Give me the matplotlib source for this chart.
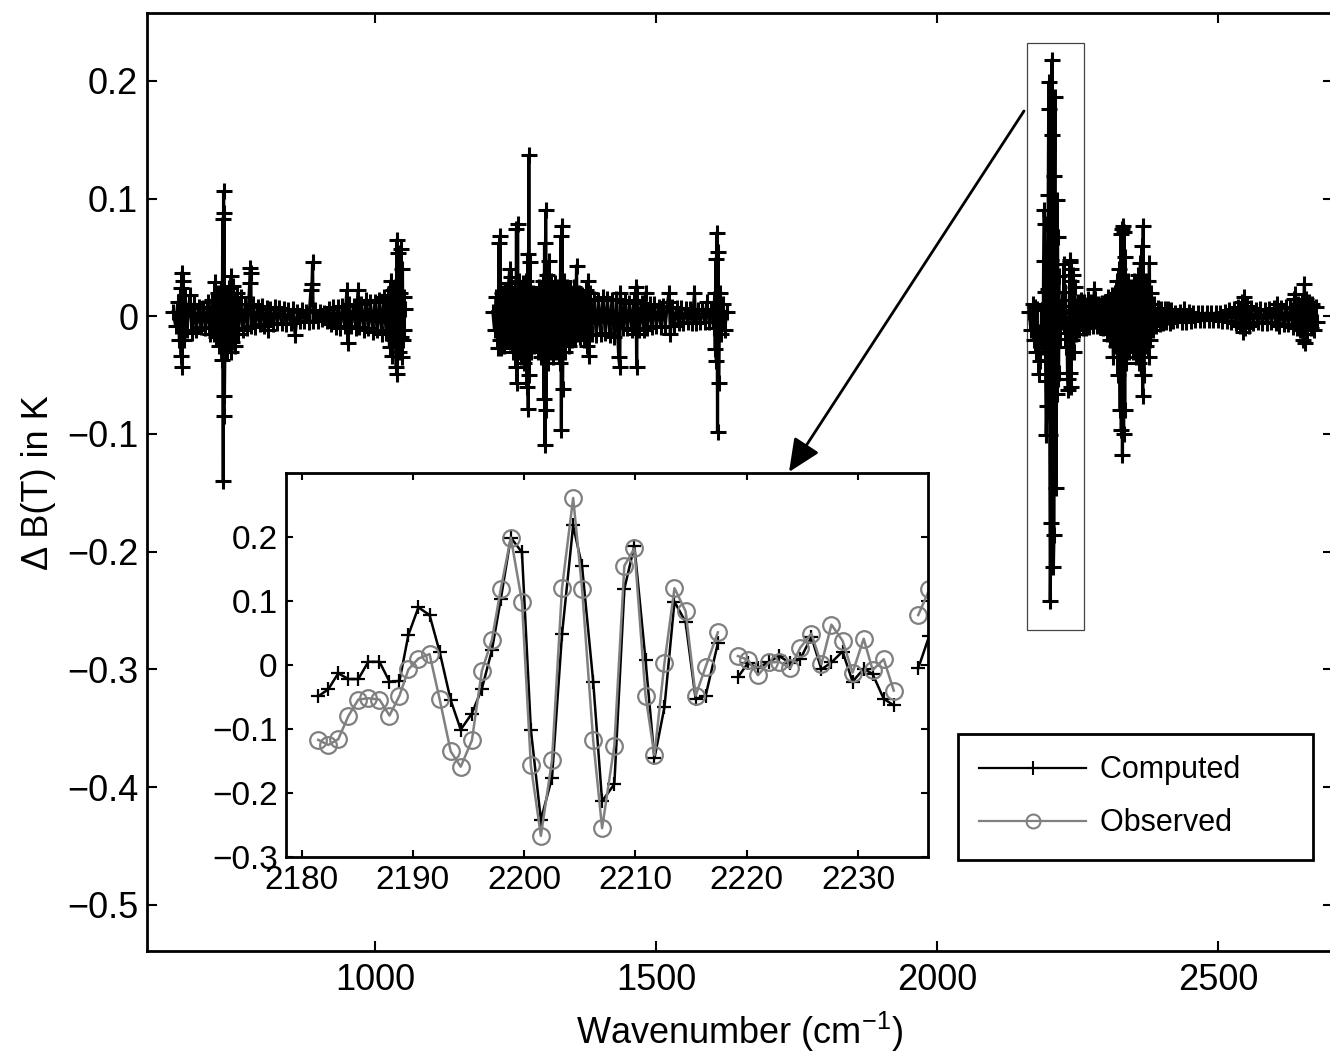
import numpy as np
import matplotlib
matplotlib.use('Agg')
import matplotlib.pyplot as plt
from matplotlib.lines import Line2D
from matplotlib.patches import Rectangle, FancyArrowPatch

plt.rcParams['font.family'] = ['Liberation Sans', 'DejaVu Sans']
plt.rcParams['mathtext.fontset'] = 'custom'
plt.rcParams['mathtext.rm'] = 'Liberation Sans'
plt.rcParams['mathtext.default'] = 'regular'

# ---- main panel: computed dB(T) per band (wavenumber, K) ----
band_lw = [
    (640, 0.004), (644, -0.008), (648, 0.012), (651, -0.02), (653, 0.024), (654, -0.034),
    (655, 0.037), (656, -0.043), (657, 0.030), (659, -0.02), (661, 0.018), (664, -0.012),
    (668, 0.01), (670, 0.018), (673, -0.014), (677, 0.01), (681, -0.012), (685, 0.008),
    (689, -0.009), (693, 0.007), (697, -0.01), (701, 0.012), (705, -0.015), (709, 0.014),
    (712, -0.015), (714, 0.029), (716, -0.018), (719, 0.02), (722, -0.025), (725, 0.022),
    (727, -0.037), (728, 0.083), (729, -0.14), (729.5, 0.106), (730, -0.085), (730.5, 0.088),
    (731, -0.068), (733, 0.02), (736, -0.03), (739, 0.024), (742, -0.03), (743, 0.034),
    (745, -0.022), (747, 0.026), (750, -0.025), (753, 0.02), (756, -0.015), (760, 0.016),
    (764, -0.012), (768, 0.01), (772, -0.01), (776, 0.028), (777, 0.041), (778, 0.037),
    (779, -0.008), (782, 0.01), (786, -0.009), (790, 0.008), (794, -0.007), (798, 0.009),
    (802, -0.008), (806, 0.007), (809, -0.012), (813, 0.006), (817, -0.007), (821, 0.008),
    (825, -0.006), (829, 0.007), (833, -0.006), (837, 0.006), (841, -0.007), (845, 0.005),
    (849, -0.006), (853, 0.006), (857, -0.016), (861, 0.004), (865, -0.004), (869, 0.005),
    (873, -0.004), (877, 0.004), (881, -0.005), (885, 0.022), (887, 0.027), (888, 0.046),
    (889, -0.004), (893, 0.005), (897, -0.004), (901, 0.004), (905, -0.002), (909, 0.003),
    (913, -0.004), (917, 0.006), (921, -0.007), (925, 0.008), (929, -0.009), (933, 0.008),
    (937, -0.01), (941, 0.009), (945, -0.008), (949, 0.022), (951, -0.023), (953, 0.01),
    (957, -0.008), (961, 0.009), (965, -0.01), (969, 0.022), (971, -0.009), (975, 0.01),
    (979, -0.012), (983, 0.014), (987, -0.01), (991, 0.012), (995, -0.013), (999, 0.012),
    (1003, -0.012), (1007, 0.014), (1011, -0.015), (1015, 0.016), (1019, -0.014), (1022, 0.018),
    (1025, -0.026), (1027, 0.03), (1029, -0.034), (1031, 0.022), (1033, -0.02), (1035, 0.025),
    (1037, -0.043), (1038, 0.065), (1039, -0.049), (1040, 0.054), (1041, -0.03), (1043, 0.02),
    (1045, -0.018), (1046, 0.057), (1047, -0.035), (1048, 0.04), (1049, -0.02), (1050, 0.016),
    (1051, -0.012), (1052, 0.006),
]

band_mw = [
    (1209, 0.004), (1212, -0.012), (1215, 0.016), (1218, -0.027), (1220, 0.062), (1221, -0.02),
    (1222, 0.068), (1223, -0.027), (1225, 0.02), (1228, -0.025), (1231, 0.022), (1234, -0.02),
    (1237, 0.028), (1239, 0.04), (1240, -0.022), (1242, 0.033), (1245, -0.03), (1248, 0.025),
    (1250, -0.043), (1251, 0.074), (1252, -0.057), (1253, 0.078), (1254, -0.03), (1256, 0.03),
    (1259, -0.035), (1262, 0.028), (1265, -0.04), (1268, 0.03), (1270, -0.06), (1271, 0.053),
    (1272, -0.079), (1273, 0.137), (1274, -0.05), (1275, 0.046), (1277, -0.03), (1280, 0.02),
    (1283, -0.025), (1286, 0.018), (1289, -0.03), (1292, 0.025), (1295, -0.035), (1298, 0.03),
    (1300, -0.07), (1301, 0.062), (1302, -0.109), (1303, 0.090), (1304, -0.08), (1305, 0.035),
    (1307, -0.04), (1309, 0.047), (1310, -0.03), (1313, 0.03), (1316, -0.035), (1319, 0.028),
    (1322, -0.03), (1325, 0.025), (1328, -0.04), (1330, 0.068), (1331, -0.097), (1332, 0.077),
    (1333, -0.062), (1335, 0.03), (1338, -0.03), (1341, 0.025), (1344, -0.025), (1347, 0.022),
    (1350, -0.02), (1353, 0.025), (1356, -0.018), (1358, 0.043), (1359, -0.015), (1362, 0.02),
    (1365, -0.018), (1368, 0.018), (1371, -0.02), (1374, 0.022), (1377, -0.025), (1379, 0.030),
    (1380, -0.034), (1382, 0.02), (1385, -0.015), (1389, 0.015), (1393, -0.016), (1397, 0.014),
    (1401, -0.015), (1405, 0.016), (1409, -0.014), (1413, 0.015), (1417, -0.016), (1421, 0.014),
    (1425, -0.018), (1429, 0.015), (1433, -0.035), (1435, -0.043), (1436, 0.02), (1440, -0.01),
    (1444, 0.012), (1448, -0.01), (1452, 0.011), (1456, -0.012), (1460, 0.014), (1463, -0.015),
    (1464, 0.025), (1465, -0.043), (1466, 0.02), (1470, -0.012), (1474, 0.011), (1478, -0.012),
    (1481, 0.02), (1484, -0.01), (1488, 0.01), (1492, -0.009), (1496, 0.01), (1500, -0.008),
    (1504, 0.008), (1508, -0.009), (1512, 0.009), (1516, -0.008), (1520, 0.012), (1523, 0.020),
    (1525, -0.015), (1528, 0.008), (1532, -0.008), (1536, 0.007), (1540, -0.006), (1544, 0.007),
    (1548, -0.006), (1552, 0.006), (1556, -0.005), (1560, 0.006), (1564, -0.006), (1568, 0.02),
    (1570, -0.006), (1574, 0.005), (1578, -0.005), (1582, 0.006), (1586, -0.005), (1590, 0.012),
    (1594, -0.005), (1598, 0.006), (1602, -0.01), (1604, 0.02), (1605, -0.028), (1606, 0.049),
    (1607, -0.038), (1608, 0.071), (1609, -0.098), (1610, 0.055), (1611, -0.057), (1613, 0.02),
    (1616, -0.015), (1619, 0.01), (1622, -0.012), (1625, 0.004),
]

band_sw_lead = [
    (2164, 0.004), (2167, -0.012), (2170, 0.01), (2172, -0.02), (2174, 0.008), (2176, -0.03),
    (2177.5, 0.006),
]

band_sw_tail = [
    (2237, 0.048), (2237.5, -0.048), (2238, 0.04), (2238.5, -0.06), (2239, 0.03), (2240, -0.02),
    (2242, 0.035), (2243, -0.03), (2245, 0.025), (2247, -0.015), (2250, 0.012), (2253, -0.012),
    (2256, 0.014), (2259, -0.01), (2262, 0.012), (2265, -0.01), (2268, 0.015), (2271, -0.009),
    (2274, 0.012), (2277, -0.008), (2280, 0.023), (2282, 0.015), (2284, -0.008), (2287, 0.01),
    (2290, -0.009), (2293, 0.011), (2296, -0.01), (2299, 0.012), (2302, -0.015), (2305, 0.016),
    (2308, -0.02), (2311, 0.018), (2314, -0.035), (2316, 0.02), (2318, -0.025), (2320, 0.03),
    (2322, -0.05), (2324, 0.04), (2326, -0.08), (2327, 0.070), (2328, -0.097), (2329, 0.074),
    (2330, -0.118), (2331, 0.077), (2332, -0.1), (2333, 0.072), (2334, -0.08), (2335, 0.05),
    (2337, -0.04), (2339, 0.03), (2342, -0.03), (2345, 0.025), (2348, -0.03), (2351, 0.03),
    (2354, -0.035), (2357, 0.035), (2360, -0.04), (2362, 0.045), (2364, -0.05), (2365, 0.06),
    (2366, -0.068), (2367, 0.077), (2368, -0.05), (2370, 0.03), (2372, -0.025), (2375, 0.03),
    (2377, -0.035), (2378, 0.045), (2379, -0.02), (2381, 0.02), (2384, -0.012), (2387, 0.01),
    (2390, -0.008), (2393, 0.007), (2396, -0.007), (2399, 0.006), (2402, -0.006), (2405, 0.006),
    (2408, -0.005), (2411, 0.006), (2414, -0.006), (2417, 0.005), (2420, -0.004), (2424, 0.003),
    (2428, -0.003), (2432, 0.004), (2436, -0.005), (2440, 0.006), (2444, -0.005), (2448, 0.004),
    (2452, -0.004), (2456, 0.003), (2460, -0.003), (2464, 0.003), (2468, -0.003), (2472, 0.003),
    (2476, -0.003), (2480, 0.003), (2484, -0.003), (2488, 0.003), (2492, -0.003), (2496, 0.003),
    (2500, -0.003), (2504, 0.003), (2508, -0.004), (2512, 0.004), (2516, -0.004), (2520, 0.005),
    (2524, -0.005), (2528, 0.006), (2532, -0.006), (2536, 0.008), (2540, -0.008), (2543, 0.012),
    (2545, -0.013), (2546, 0.016), (2548, -0.01), (2551, 0.009), (2555, -0.008), (2559, 0.007),
    (2563, -0.006), (2567, 0.005), (2571, -0.005), (2575, 0.006), (2579, -0.006), (2583, 0.005),
    (2587, -0.006), (2591, 0.006), (2595, -0.005), (2599, 0.007), (2603, -0.006), (2606, 0.01),
    (2609, -0.008), (2613, 0.007), (2617, -0.007), (2621, 0.008), (2625, -0.007), (2629, 0.008),
    (2633, -0.009), (2636, 0.015), (2638, 0.019), (2640, -0.01), (2643, 0.01), (2646, -0.012),
    (2649, 0.012), (2652, -0.02), (2654, 0.027), (2655, -0.023), (2657, 0.015), (2659, -0.015),
    (2662, 0.012), (2665, -0.01), (2668, 0.01), (2671, -0.012), (2674, 0.008), (2676, -0.005),
]

# ---- inset: 2180-2236 cm-1 detail ----
inset_wn = [2181.5, 2182.4, 2183.3, 2184.2, 2185.1, 2186.0, 2187.0, 2187.9, 2188.8, 2189.6,
            2190.5, 2191.5, 2192.4, 2193.4, 2194.3, 2195.3, 2196.2, 2197.1, 2197.9, 2198.8,
            2199.8, 2200.6, 2201.5, 2202.5, 2203.4, 2204.4, 2205.2, 2206.2, 2207.0, 2208.1,
            2209.0, 2209.9, 2210.9, 2211.7, 2212.6, 2213.5, 2214.5, 2215.4, 2216.3, 2217.4,
            2218.3, 2219.2, 2220.1, 2221.0, 2222.0, 2222.9, 2223.9, 2224.8, 2225.8, 2226.7,
            2227.6, 2228.6, 2229.5, 2230.5, 2231.3, 2232.3, 2233.2, 2234.1, 2235.4, 2236.4]
computed = [-0.049, -0.038, -0.013, -0.022, -0.022, 0.005, 0.005, -0.026, -0.025, 0.047,
            0.090, 0.078, 0.021, -0.055, -0.101, -0.076, -0.037, 0.023, 0.103, 0.199,
            0.176, -0.101, -0.242, -0.176, 0.048, 0.218, 0.154, -0.026, -0.213, -0.186,
            0.119, 0.186, 0.008, -0.146, -0.066, 0.099, 0.067, -0.053, -0.048, 0.034,
            np.nan, -0.019, 0.003, -0.005, 0.005, 0.014, 0.003, 0.009, 0.044, -0.007,
            0.004, 0.021, -0.026, -0.006, -0.014, -0.053, -0.063, np.nan, -0.005, 0.046]
observed = [-0.117, -0.125, -0.116, -0.080, -0.054, -0.052, -0.054, -0.079, -0.048, -0.007,
            0.010, 0.017, -0.053, -0.135, -0.159, -0.118, -0.009, 0.039, 0.119, 0.199,
            0.099, -0.157, -0.267, -0.149, 0.120, 0.261, 0.119, -0.118, -0.255, -0.126,
            0.155, 0.182, -0.048, -0.141, 0.003, 0.120, 0.084, -0.048, -0.003, 0.051,
            np.nan, 0.014, 0.008, -0.016, 0.004, 0.005, -0.005, 0.027, 0.049, 0.001,
            0.063, 0.038, -0.012, 0.041, -0.008, 0.009, -0.040, np.nan, 0.078, 0.118]

main_yticks = [-0.5, -0.4, -0.3, -0.2, -0.1, 0, 0.1, 0.2]
main_ylabels = ['\u22120.5', '\u22120.4', '\u22120.3', '\u22120.2', '\u22120.1', '0', '0.1', '0.2']
main_xticks = [1000, 1500, 2000, 2500]
inset_xticks = [2180, 2190, 2200, 2210, 2220, 2230]
inset_yticks = [-0.3, -0.2, -0.1, 0, 0.1, 0.2]
inset_ylabels = ['\u22120.3', '\u22120.2', '\u22120.1', '0', '0.1', '0.2']

# assemble the main series, NaN breaks between bands
gap = [(np.nan, np.nan)]
sw_mid = list(zip(inset_wn, computed))
main_pts = band_lw + gap + band_mw + gap + band_sw_lead + sw_mid + band_sw_tail
main_wn = np.array([p[0] for p in main_pts])
main_dbt = np.array([p[1] for p in main_pts])

fig = plt.figure(figsize=(13.3, 10.55), dpi=100)

ax = fig.add_axes([0.1102, 0.0986, 0.8921, 0.8888])
ax.plot(main_wn, main_dbt, color='k', lw=2.3, marker='+', ms=11, mew=2.2)
ax.add_patch(Rectangle((2160, -0.267), 102, 0.499, fill=False, ec='#444444', lw=0.9))
ax.set_xlim(592.4, 2705)
ax.set_ylim(-0.5393, 0.2574)
ax.set_xticks(main_xticks)
ax.set_yticks(main_yticks)
ax.set_yticklabels(main_ylabels)
ax.tick_params(direction='in', length=7, width=1.5, top=True, right=True,
               labelsize=26, pad=6)
ax.tick_params(axis='x', pad=9)
for s in ax.spines.values():
    s.set_linewidth(2.0)
ax.set_xlabel('Wavenumber (cm$^{-1}$)', fontsize=26, labelpad=8)
ax.set_ylabel('\u0394 B(T) in K', fontsize=26, labelpad=8)

leg = ax.legend(handles=[
    Line2D([], [], color='k', lw=1.6, marker='+', ms=10, mew=1.5, label='Computed      '),
    Line2D([], [], color='#808080', lw=1.6, marker='o', ms=10, mfc='none', mew=1.5,
           label='Observed      ')],
    loc='upper left', bbox_to_anchor=(0.7203, 0.3043), bbox_transform=fig.transFigure,
    fontsize=22, frameon=True, fancybox=False, framealpha=1, edgecolor='k',
    handlelength=3.5, handletextpad=0.45, labelspacing=0.75, borderpad=0.7,
    borderaxespad=0)
leg.get_frame().set_linewidth(2.0)

ins = fig.add_axes([0.2150, 0.1877, 0.4827, 0.3640])
ins.set_zorder(3)
ins.plot(inset_wn, computed, color='k', lw=1.8, marker='+', ms=10, mew=1.6)
ins.plot(inset_wn, observed, color='#808080', lw=1.8, marker='o', ms=12, mfc='none', mew=1.6)
ins.set_xlim(2178.6, 2236.27)
ins.set_ylim(-0.3, 0.3)
ins.set_xticks(inset_xticks)
ins.set_yticks(inset_yticks)
ins.set_yticklabels(inset_ylabels)
ins.tick_params(direction='in', length=5, width=1.5, top=True, right=True,
                labelsize=24, pad=6)
for s in ins.spines.values():
    s.set_linewidth(2.0)

arrow = FancyArrowPatch((1024 / 1330, 1 - 111 / 1055), (789 / 1330, 1 - 472 / 1055),
                        transform=fig.transFigure, arrowstyle='-|>,head_length=1.0,head_width=0.45',
                        mutation_scale=20, lw=2.0, color='k', shrinkA=0, shrinkB=0, zorder=10)
fig.add_artist(arrow)

fig.savefig('out.png', dpi=100)
